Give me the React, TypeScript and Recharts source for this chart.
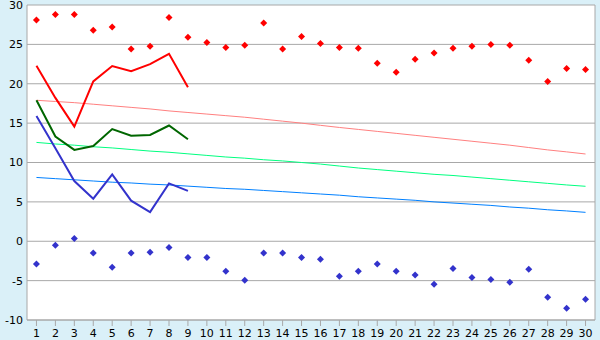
import { CartesianGrid, ComposedChart, Line, XAxis, YAxis } from 'recharts';

const days = Array.from({ length: 30 }, (_, i) => String(i + 1));

// daily extremes
const maxTemps = [
  28.1, 28.8, 28.8, 26.8, 27.2, 24.4, 24.75, 28.4, 25.9, 25.25,
  24.6, 24.9, 27.7, 24.4, 26.0, 25.1, 24.6, 24.5, 22.6, 21.45,
  23.1, 23.9, 24.5, 24.75, 25.0, 24.9, 23.0, 20.3, 21.95, 21.8,
];
const minTemps = [
  -2.9, -0.5, 0.35, -1.5, -3.3, -1.5, -1.4, -0.8, -2.05, -2.05,
  -3.8, -4.95, -1.5, -1.5, -2.05, -2.3, -4.45, -3.8, -2.9, -3.8,
  -4.3, -5.45, -3.45, -4.6, -4.85, -5.2, -3.55, -7.1, -8.5, -7.35,
];

// first nine days only
const highLine = [22.3, 18.2, 14.55, 20.3, 22.25, 21.6, 22.5, 23.8, 19.55];
const meanLine = [17.9, 13.3, 11.6, 12.1, 14.25, 13.4, 13.5, 14.7, 12.95];
const lowLine = [15.9, 11.8, 7.65, 5.4, 8.5, 5.15, 3.7, 7.35, 6.4];

// normals
const normHigh = [
  17.9, 17.75, 17.6, 17.4, 17.2, 17.0, 16.8, 16.55, 16.35, 16.15,
  15.95, 15.75, 15.5, 15.25, 15.0, 14.72, 14.45, 14.2, 13.95, 13.7,
  13.45, 13.2, 12.95, 12.7, 12.45, 12.2, 11.9, 11.6, 11.35, 11.08,
];
const normMean = [
  12.55, 12.35, 12.2, 12.0, 11.85, 11.65, 11.45, 11.3, 11.1, 10.9,
  10.7, 10.55, 10.35, 10.2, 10.0, 9.8, 9.55, 9.3, 9.1, 8.9,
  8.7, 8.5, 8.35, 8.15, 7.95, 7.75, 7.55, 7.35, 7.15, 6.98,
];
const normLow = [
  8.1, 7.95, 7.8, 7.65, 7.5, 7.4, 7.25, 7.15, 7.0, 6.85,
  6.7, 6.6, 6.45, 6.3, 6.15, 6.0, 5.85, 5.65, 5.5, 5.35,
  5.2, 5.0, 4.85, 4.7, 4.55, 4.35, 4.2, 4.0, 3.85, 3.67,
];

const yTicks = [-10, -5, 0, 5, 10, 15, 20, 25, 30];

const data = days.map((d, i) => ({
  day: d,
  max: maxTemps[i],
  min: minTemps[i],
  high: highLine[i] ?? null,
  mean: meanLine[i] ?? null,
  low: lowLine[i] ?? null,
  nHigh: normHigh[i],
  nMean: normMean[i],
  nLow: normLow[i],
}));

const Diamond = (color: string) => (props: { cx?: number; cy?: number; index?: number }) => {
  const { cx, cy, index } = props;
  if (cx == null || cy == null) return <g key={index} />;
  const r = 3.5;
  return (
    <polygon
      key={index}
      points={`${cx},${cy - r} ${cx + r},${cy} ${cx},${cy + r} ${cx - r},${cy}`}
      fill={color}
      stroke="none"
    />
  );
};

const AXIS = '#a8a8a8';

export default function App() {
  return (
    <div
      style={{
        position: 'fixed',
        top: 0,
        left: 0,
        width: 600,
        height: 340,
        background: '#daf0f8',
        fontFamily: '"DejaVu Sans", sans-serif',
      }}
    >
      <ComposedChart width={600} height={340} data={data} margin={{ top: 5, right: 4, left: 0, bottom: 0 }}>
        <CartesianGrid vertical={false} stroke={AXIS} fill="#ffffff" fillOpacity={1} />
        <XAxis
          dataKey="day"
          scale="band"
          stroke={AXIS}
          tickSize={6}
          tickMargin={3}
          height={20}
          interval={0}
          tick={{ fill: '#000', fontSize: 11 }}
        />
        <YAxis
          domain={[-10, 30]}
          ticks={yTicks}
          stroke={AXIS}
          width={27}
          tickSize={0}
          tickMargin={4}
          tick={{ fill: '#000', fontSize: 11 }}
          interval={0}
        />
        <YAxis yAxisId="r" orientation="right" width={1} tick={false} tickLine={false} stroke={AXIS} domain={[-10, 30]} />
        <Line dataKey="nHigh" stroke="#ff8080" strokeWidth={1} dot={false} isAnimationActive={false} />
        <Line dataKey="nMean" stroke="#00ff80" strokeWidth={1} dot={false} isAnimationActive={false} />
        <Line dataKey="nLow" stroke="#0080ff" strokeWidth={1} dot={false} isAnimationActive={false} />
        <Line dataKey="high" stroke="#ff0000" strokeWidth={2} dot={false} isAnimationActive={false} />
        <Line dataKey="mean" stroke="#006600" strokeWidth={2} dot={false} isAnimationActive={false} />
        <Line dataKey="low" stroke="#3333cc" strokeWidth={2} dot={false} isAnimationActive={false} />
        <Line dataKey="max" stroke="none" dot={Diamond('#ff0000')} activeDot={false} isAnimationActive={false} />
        <Line dataKey="min" stroke="none" dot={Diamond('#3333cc')} activeDot={false} isAnimationActive={false} />
      </ComposedChart>
    </div>
  );
}
